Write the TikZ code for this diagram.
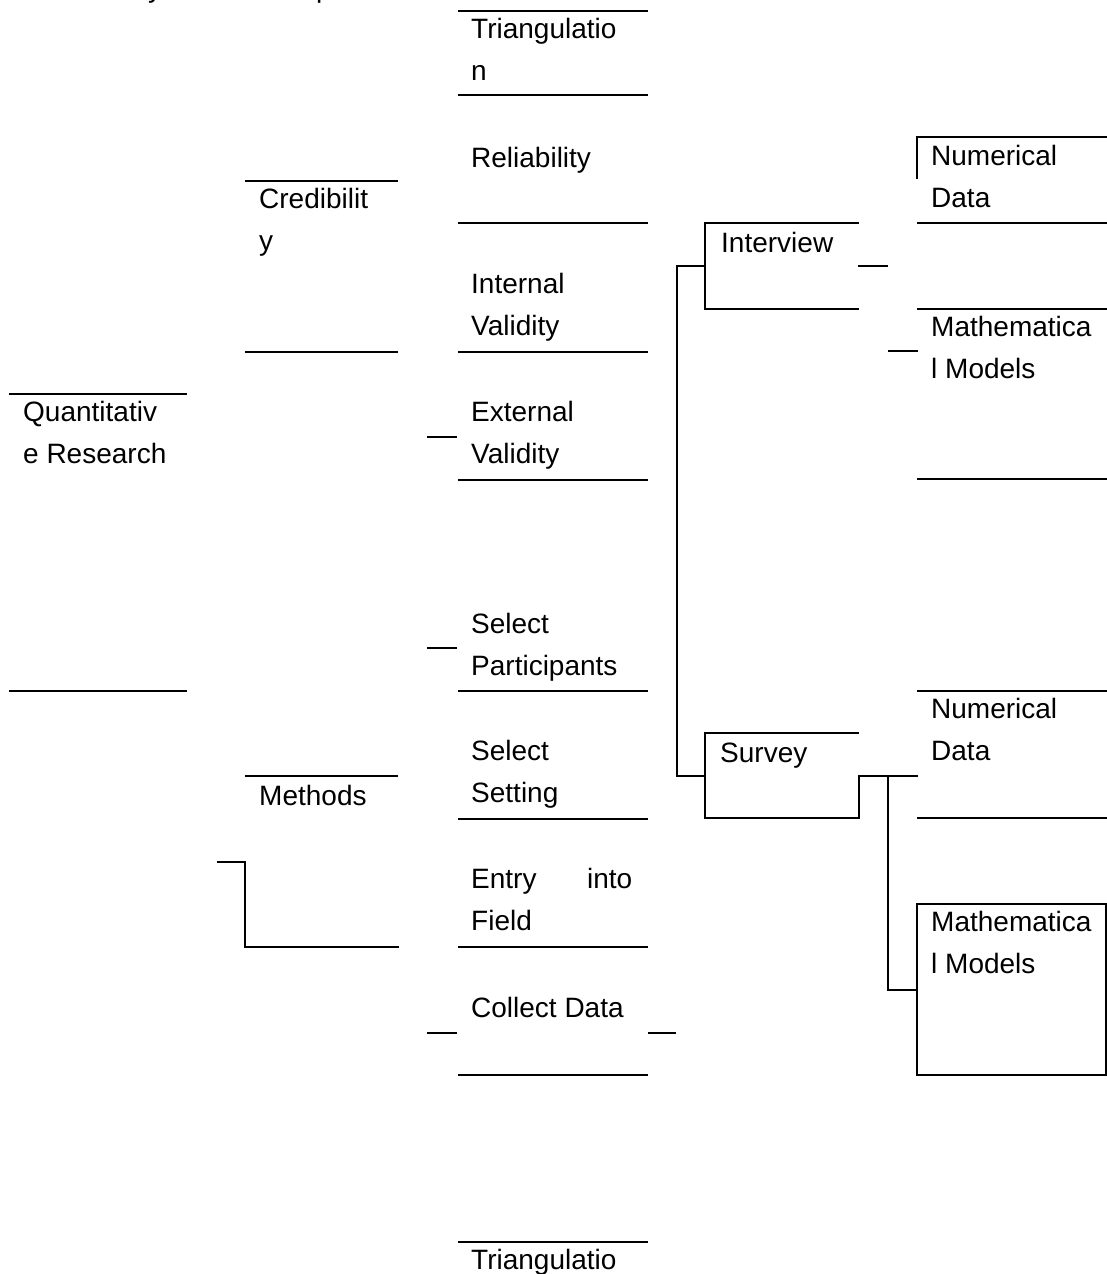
\documentclass[tikz,border=0pt]{standalone}
\usepackage{fontspec}
\setmainfont{Liberation Sans}
\usetikzlibrary{positioning}
\tikzset{lbl/.style = {anchor = base west, align = left, inner sep = 0,
                       font = \fontsize{28}{41.5}\selectfont}}
\tikzset{ln/.style = {line width = 1.5pt}}

\begin{document}
\begin{tikzpicture}[x = 1pt, y = -1pt]
      \useasboundingbox (0, 0) rectangle (1107, 1274);
      % middle column (two-line labels sit on their last baseline)
      \foreach \y in {11, 95, 223, 352, 480, 691, 819, 947, 1075, 1242}
        \draw [ln] (458, \y) -- (648, \y);
      \node [lbl] (tri) at (471, 80) {Triangulatio\\n};
      \node [lbl] (rel) at (471, 167) {Reliability};
      \node [lbl] (intv) at (471, 335) {Internal\\Validity};
      \node [lbl] (extv) at (471, 463) {External\\Validity};
      \node [lbl] (part) at (471, 675) {Select\\Participants};
      \node [lbl] (sett) at (471, 802) {Select\\Setting};
      \node [lbl] (entry) at (471, 930) {\makebox[161pt][s]{Entry into}\\Field};
      \node [lbl] (coll) at (471, 1017) {Collect Data};
      \node [lbl] (trib) at (471, 1269) {Triangulatio};
      \draw [ln] (427, 437) -- (457, 437);
      \draw [ln] (427, 648) -- (457, 648);
      \draw [ln] (427, 1033) -- (457, 1033);
      \draw [ln] (648, 1033) -- (676, 1033);
      % left columns
      \node [lbl] at (148, -2) {y};
      \node [lbl] at (316, -2) {p};
      \draw [ln] (9, 394) -- (187, 394);
      \draw [ln] (9, 691) -- (187, 691);
      \node [lbl] (quant) at (23, 463) {Quantitativ\\e Research};
      \draw [ln] (245, 181) -- (398, 181);
      \draw [ln] (245, 352) -- (398, 352);
      \node [lbl] (cred) at (259, 250) {Credibilit\\y};
      \draw [ln] (245, 776) -- (398, 776);
      \node [lbl] (meth) at (259, 805) {Methods};
      \draw [ln] (217, 862) -- (245, 862) -- (245, 947) -- (399, 947);
      % right columns
      \draw [ln] (705, 266) -- (677, 266) -- (677, 776) -- (705, 776);
      \draw [ln] (859, 223) -- (705, 223) -- (705, 309) -- (859, 309);
      \node [lbl] (inter) at (721, 252) {Interview};
      \draw [ln] (858, 266) -- (888, 266);
      \draw [ln] (888, 351) -- (918, 351);
      \draw [ln] (859, 733) -- (705, 733) -- (705, 818) -- (859, 818) -- (859, 776) -- (918, 776);
      \draw [ln] (888, 776) -- (888, 990) -- (918, 990);
      \node [lbl] (surv) at (720, 762) {Survey};
      \draw [ln] (917, 179) -- (917, 137) -- (1107, 137);
      \draw [ln] (917, 223) -- (1107, 223);
      \draw [ln] (917, 309) -- (1107, 309);
      \draw [ln] (917, 479) -- (1107, 479);
      \node [lbl] (numa) at (931, 207) {Numerical\\Data};
      \node [lbl] (matha) at (931, 378) {Mathematica\\l Models};
      \draw [ln] (917, 691) -- (1107, 691);
      \draw [ln] (917, 818) -- (1107, 818);
      \draw [ln] (917, 904) rectangle (1106, 1075);
      \node [lbl] (numb) at (931, 760) {Numerical\\Data};
      \node [lbl] (mathb) at (931, 973) {Mathematica\\l Models};
    \end{tikzpicture}
\end{document}
